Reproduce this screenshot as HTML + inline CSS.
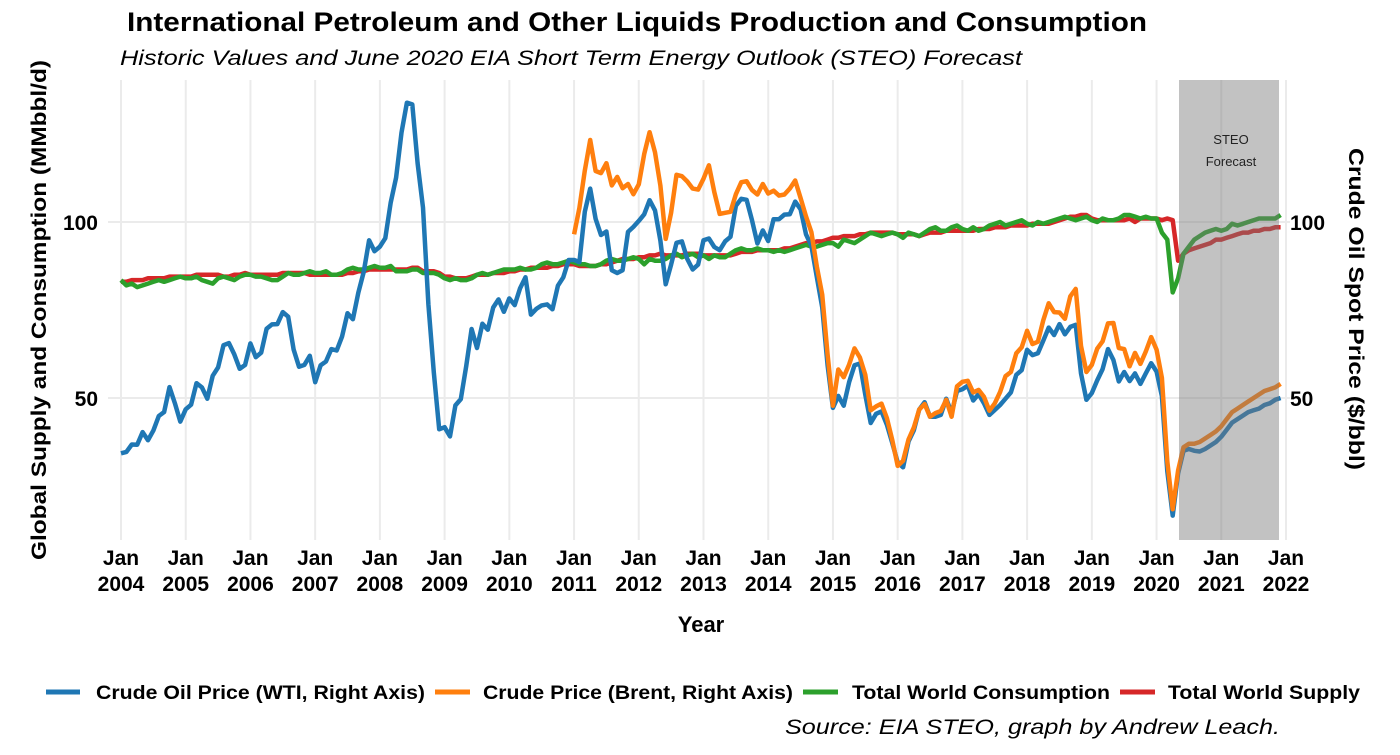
<!DOCTYPE html>
<html><head><meta charset="utf-8">
<style>
body{margin:0;background:#fff;}
svg text{font-family:"Liberation Sans",Arial,sans-serif;}
</style></head>
<body>
<svg id="chart" width="1400" height="750" viewBox="0 0 1400 750" xmlns="http://www.w3.org/2000/svg">
<g id="grid"></g>
<g id="series"></g>
<rect x="1179" y="80" width="100" height="460" fill="rgb(120,120,120)" fill-opacity="0.45"/>
<text x="1231" y="144" font-size="13" text-anchor="middle" fill="#222">STEO</text>
<text x="1231" y="166" font-size="13" text-anchor="middle" fill="#222">Forecast</text>
<text x="127" y="31" font-size="27" font-weight="bold" fill="#000" textLength="1020" lengthAdjust="spacingAndGlyphs">International Petroleum and Other Liquids Production and Consumption</text>
<text x="120" y="65" font-size="21" font-style="italic" fill="#000" textLength="902" lengthAdjust="spacingAndGlyphs">Historic Values and June 2020 EIA Short Term Energy Outlook (STEO) Forecast</text>
<text transform="translate(46,310) rotate(-90)" font-size="21" font-weight="bold" text-anchor="middle" textLength="500" lengthAdjust="spacingAndGlyphs">Global Supply and Consumption (MMbbl/d)</text>
<text transform="translate(1349,309) rotate(90)" font-size="21" font-weight="bold" text-anchor="middle" textLength="322" lengthAdjust="spacingAndGlyphs">Crude Oil Spot Price ($/bbl)</text>
<text x="701" y="632" font-size="22" font-weight="bold" text-anchor="middle">Year</text>
<g id="xticks"></g>
<g id="yticks"></g>
<g font-size="19" font-weight="bold">
 <g><line x1="46" y1="692" x2="80" y2="692" stroke="#1f77b4" stroke-width="5"/><text x="96" y="699" textLength="329" lengthAdjust="spacingAndGlyphs">Crude Oil Price (WTI, Right Axis)</text></g>
 <g><line x1="435" y1="692" x2="470" y2="692" stroke="#ff7f0e" stroke-width="5"/><text x="483" y="699" textLength="310" lengthAdjust="spacingAndGlyphs">Crude Price (Brent, Right Axis)</text></g>
 <g><line x1="803" y1="692" x2="838" y2="692" stroke="#2ca02c" stroke-width="5"/><text x="852" y="699" textLength="258" lengthAdjust="spacingAndGlyphs">Total World Consumption</text></g>
 <g><line x1="1120" y1="692" x2="1155" y2="692" stroke="#d62728" stroke-width="5"/><text x="1168" y="699" textLength="192" lengthAdjust="spacingAndGlyphs">Total World Supply</text></g>
</g>
<text x="785" y="734" font-size="21" font-style="italic" textLength="495" lengthAdjust="spacingAndGlyphs">Source: EIA STEO, graph by Andrew Leach.</text>
</svg>
<script>
const startYear = 2004;
const yearTicks = [2004,2005,2006,2007,2008,2009,2010,2011,2012,2013,2014,2015,2016,2017,2018,2019,2020,2021,2022];
const yTicks = [50,100];
const wti = [34.3,34.7,36.8,36.7,40.3,38.0,40.8,44.9,46.0,53.1,48.5,43.3,
46.8,48.1,54.2,53.0,49.8,56.3,58.7,65.0,65.6,62.4,58.3,59.4,
65.5,61.6,62.9,69.7,70.9,71.0,74.4,73.1,63.8,58.9,59.4,62.0,
54.5,59.3,60.4,63.9,63.5,67.5,74.1,72.4,79.9,85.8,94.8,91.7,
93.0,95.4,105.5,112.6,125.4,133.9,133.4,116.7,104.1,76.6,57.3,41.1,
41.7,39.1,47.9,49.7,59.0,69.6,64.2,71.1,69.4,75.7,78.0,74.5,
78.3,76.4,81.2,84.3,73.7,75.3,76.3,76.6,75.2,81.9,84.3,89.2,
89.2,88.6,102.9,109.5,100.9,96.3,97.3,86.3,85.5,86.3,97.2,98.6,
100.3,102.2,106.2,103.3,94.7,82.3,87.9,94.1,94.5,89.5,86.5,87.9,
94.8,95.3,92.9,92.0,94.5,95.8,104.6,106.6,106.3,100.5,93.9,97.6,
94.6,100.8,100.8,102.1,102.2,105.8,103.6,96.5,93.2,84.4,75.8,59.3,
47.2,50.6,47.8,54.5,59.3,59.8,50.9,42.9,45.5,46.2,42.4,37.2,
31.7,30.3,37.6,40.8,46.7,48.8,44.7,44.7,45.2,49.8,45.7,52.0,
52.5,53.5,49.3,51.1,48.5,45.2,46.6,48.0,49.8,51.6,56.6,57.9,
63.7,62.2,62.7,66.3,70.0,67.9,71.0,68.1,70.2,70.8,57.0,49.5,
51.4,55.0,58.2,63.9,60.8,54.7,57.4,54.8,57.0,54.0,57.0,59.9,
57.5,50.5,29.2,16.6,28.6,35.0,35.5,35.0,34.8,35.5,36.5,37.5,
39.0,41.0,43.0,44.0,45.0,46.0,46.5,47.0,48.0,48.5,49.5,50.0];
const brentStart = 84;
const brent = [96.5,104,114.6,123.3,114.5,113.9,116.7,110.4,112.8,109.6,110.8,107.9,
110.7,119.3,125.5,119.8,110.3,95.2,102.6,113.4,113.0,111.5,109.5,109.2,
112.3,116.1,108.5,102.3,102.6,102.9,107.9,111.3,111.6,109.1,107.8,110.8,
108.1,108.9,107.5,107.8,109.5,111.8,106.8,101.6,97.1,87.4,79.4,62.3,
47.8,58.1,55.9,59.5,64.1,61.5,56.6,46.5,47.6,48.4,44.3,38.0,
30.7,32.2,38.2,41.6,46.7,48.3,44.7,45.7,46.3,49.5,44.7,53.3,
54.6,54.9,51.6,52.3,50.3,46.4,48.5,51.7,56.2,57.4,62.7,64.4,
69.1,65.3,66.0,72.1,76.9,74.4,74.3,72.5,78.9,81.0,64.8,57.4,
59.4,64.0,66.1,71.2,71.3,64.2,63.9,59.0,62.8,59.7,63.2,67.3,
63.7,55.7,32.0,18.4,29.4,36.0,37.0,37.0,37.5,38.5,39.5,40.5,
42.0,44.0,46.0,47.0,48.0,49.0,50.0,51.0,52.0,52.5,53.0,54.0];
const consumption = [83.5,82,82.5,81.5,82,82.5,83,83.5,83,83.5,84,84.5,
84,84,84.5,83.5,83,82.5,84,84.5,84,83.5,84.5,85,
85,84.5,84.5,84,83.5,83.5,84.5,85.5,85,85,85.5,86,
85.5,85.5,86,85,85,85.5,86.5,87,86.5,86.5,87,87.5,
87,87,87.5,86,86,86,86.5,86.5,85.5,85.5,85.5,85,
84,83.5,84,83.5,83.5,84,85,85.5,85,85.5,86,86.5,
86.5,86.5,87,86.5,86.5,87,88,88.5,88,88,88.5,89,
88.5,88,88,87.5,87.5,88,89,89.5,89,89,89.5,90,
89.5,88,89.5,89,89,89.5,90.5,91,90,90.5,91,90,
90.5,89.5,90.5,90,90,91,92,92.5,92,92,92.5,92,
92,91.5,92,91.5,92,92.5,93,93.5,93,93,93.5,94,
94,93,95,94.5,94,95,96,97,96.5,96,96.5,97,
96.5,95.5,97,96.5,96,97,98,98.5,97.5,97.5,98.5,99,
98,97.5,98.5,97.5,98,99,99.5,100,99,99.5,100,100.5,
99.5,99,100,99.5,100,100.5,101,101.5,101,100.5,101,101.5,
100.5,100,101,100.5,100.5,101,102,102,101.5,101,101.5,101,
101,97,95,80,84,91,93,95,96,97,97.5,98,
97.5,98,99.5,99,99.5,100,100.5,101,101,101,101,102];
const supply = [83,83,83.5,83.5,83.5,84,84,84,84,84.5,84.5,84.5,
84.5,84.5,85,85,85,85,85,84.5,84.5,85,85,85.5,
85,85,85,85,85,85,85.5,85.5,85.5,85.5,85.5,85,
85,85,85,85,85,85,85.5,85.5,86,86,86.5,86.5,
86.5,86.5,86.5,86.5,86.5,86.5,87,87,86,86,86,85.5,
84.5,84.5,84,84,84,84.5,85,85,85,85.5,85.5,85.5,
86,86,86.5,86.5,87,87,87,87,87.5,87.5,88,88,
88,87.5,87.5,87.5,87.5,88,88,88.5,89,89.5,89.5,89.5,
90,90,90.5,90.5,91,90.5,90.5,90.5,90.5,91,91,91,
90.5,90.5,90.5,90.5,90.5,90.5,91,91.5,91.5,91.5,92,92,
92,92,92,92.5,92.5,93,93.5,94,94,94.5,94.5,95,
95.5,95.5,96,96,96,96.5,96.5,97,97,97,97,97,
96.5,96.5,96.5,96.5,96,96.5,97,97,97,97.5,97.5,97.5,
97.5,97.5,97.5,98,98,98,98.5,98.5,98.5,99,99,99,
99,99.5,99.5,99.5,99.5,100,100.5,101,101.5,101.5,102,102,
101,100.5,100.5,100.5,100.5,100.5,100.5,101,100,101,101,101,
101,100.5,101,100.5,89,91,92,92.5,93,93.5,94,95,
95,95.5,96,96.5,97,97,97.5,97.5,98,98,98.5,98.5];

const NS="http://www.w3.org/2000/svg";
const x0=121, pxYear=(1286-121)/18;
function xm(m){return x0+m/12*pxYear;}
function xy(yr){return x0+(yr-startYear)*pxYear;}
function yv(v){return 222+(100-v)*3.52;}
const grid=document.getElementById('grid');
const xt=document.getElementById('xticks');
const yt=document.getElementById('yticks');
yearTicks.forEach(yr=>{
  const l=document.createElementNS(NS,'line');
  
  
  l.setAttribute('x1',xy(yr));l.setAttribute('x2',xy(yr));
  l.setAttribute('y1',80);l.setAttribute('y2',540);
  l.setAttribute('stroke','#ebebeb');l.setAttribute('stroke-width','2');
  grid.appendChild(l);
  const t=document.createElementNS(NS,'text');
  
  
  t.setAttribute('x',xy(yr));t.setAttribute('text-anchor','middle');
  t.setAttribute('font-size','21');t.setAttribute('font-weight','bold');
  const a=document.createElementNS(NS,'tspan');a.setAttribute('x',xy(yr));a.setAttribute('y',565);a.textContent='Jan';
  const b=document.createElementNS(NS,'tspan');b.setAttribute('x',xy(yr));b.setAttribute('y',591);b.textContent=String(yr);
  t.appendChild(a);t.appendChild(b);xt.appendChild(t);
});
yTicks.forEach(v=>{
  const l=document.createElementNS(NS,'line');
  
  
  l.setAttribute('x1',108);l.setAttribute('x2',1290);
  l.setAttribute('y1',yv(v));l.setAttribute('y2',yv(v));
  l.setAttribute('stroke','#ebebeb');l.setAttribute('stroke-width','2');
  grid.appendChild(l);
  [[98,'end','y-tick-label-left'],[1290,'start','y-tick-label-right']].forEach(([x,anc,nm])=>{
    const t=document.createElementNS(NS,'text');
    
    
    t.setAttribute('x',x);t.setAttribute('y',yv(v)+8);
    t.setAttribute('text-anchor',anc);t.setAttribute('font-size','21');t.setAttribute('font-weight','bold');
    t.textContent=String(v);yt.appendChild(t);
  });
});
const series=document.getElementById('series');
function draw(arr,start,color,name){
  const p=document.createElementNS(NS,'path');
  
  
  p.setAttribute('d',arr.map((v,i)=>(i?'L':'M')+xm(start+i).toFixed(1)+','+yv(v).toFixed(1)).join(''));
  p.setAttribute('fill','none');p.setAttribute('stroke',color);
  p.setAttribute('stroke-width','4.5');p.setAttribute('stroke-linejoin','round');
  series.appendChild(p);
}
draw(supply,0,'#d62728','line-total-world-supply');
draw(consumption,0,'#2ca02c','line-total-world-consumption');
draw(wti,0,'#1f77b4','line-wti-price');
draw(brent,brentStart,'#ff7f0e','line-brent-price');
</script>
</body></html>
